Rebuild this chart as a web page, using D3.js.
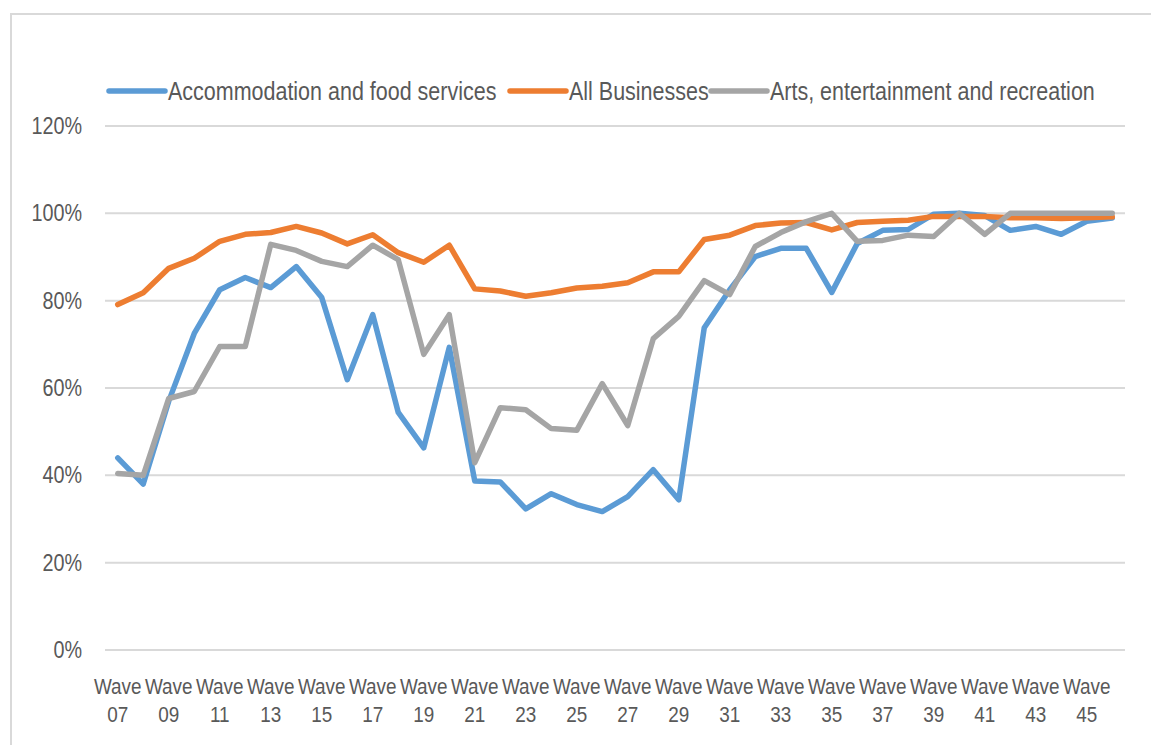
<!DOCTYPE html>
<html>
<head>
<meta charset="utf-8">
<script src="https://cdn.jsdelivr.net/npm/d3@7"></script>
<style>
  body { margin: 0; background: #fff; overflow: hidden; }
  text { font-family: "Liberation Sans", Arial, sans-serif; fill: #595959; }
</style>
</head>
<body>
<script>
const waves = d3.range(7, 47).map(n => String(n).padStart(2, '0'));

const accommodation = [0.44, 0.38, 0.57, 0.725, 0.825, 0.853, 0.83, 0.878, 0.807, 0.619, 0.768, 0.544, 0.463, 0.693,
  0.387, 0.385, 0.323, 0.358, 0.333, 0.317, 0.351, 0.413, 0.344, 0.738, 0.825, 0.901, 0.92, 0.92, 0.819,
  0.931, 0.961, 0.963, 0.998, 1.0, 0.995, 0.961, 0.97, 0.952, 0.982, 0.989];
const allBusinesses = [0.791, 0.818, 0.874, 0.897, 0.936, 0.952, 0.956, 0.97, 0.955, 0.93, 0.951, 0.91, 0.888, 0.927,
  0.827, 0.822, 0.81, 0.818, 0.829, 0.833, 0.841, 0.866, 0.866, 0.94, 0.95, 0.972, 0.978, 0.979, 0.962,
  0.979, 0.982, 0.984, 0.993, 0.993, 0.993, 0.99, 0.99, 0.988, 0.99, 0.992];
const arts = [0.404, 0.4, 0.576, 0.592, 0.695, 0.695, 0.929, 0.915, 0.89, 0.878, 0.927, 0.894, 0.677, 0.768,
  0.429, 0.555, 0.55, 0.507, 0.503, 0.61, 0.514, 0.713, 0.764, 0.846, 0.814, 0.924, 0.956, 0.981, 1.0,
  0.936, 0.938, 0.95, 0.947, 1.0, 0.952, 1.0, 1.0, 1.0, 1.0, 1.0];

const seriesNames = ["Accommodation and food services", "All Businesses", "Arts, entertainment and recreation"];
const seriesColors = ["#5B9BD5", "#ED7D31", "#A5A5A5"];
const yTicks = [0, 0.2, 0.4, 0.6, 0.8, 1.0, 1.2];

const series = [accommodation, allBusinesses, arts];
const width = 1151, height = 745;
const squeeze = 0.86; // no Calibri here, so narrow the glyphs a bit

const svg = d3.select("body").append("svg")
  .attr("width", width).attr("height", height);

// squeeze a text horizontally around its anchor x
function condense(sel, cx) {
  sel.attr("transform", (d, i) => {
    const c = typeof cx === "function" ? cx(d, i) : cx;
    return `translate(${c},0) scale(${squeeze},1) translate(${-c},0)`;
  });
}

// chart frame (right edge runs off the picture)
svg.append("rect")
  .attr("x", 11).attr("y", 14)
  .attr("width", width + 20).attr("height", height)
  .attr("fill", "none").attr("stroke", "#D9D9D9").attr("stroke-width", 2);

const x = d3.scaleBand().domain(waves).range([105, 1125]);
const y = d3.scaleLinear().domain([0, 1.2]).range([650, 126]);
const cx = d => x(d) + x.bandwidth() / 2;

// gridlines
svg.append("g").selectAll("line").data(yTicks).join("line")
  .attr("x1", 105).attr("x2", 1125)
  .attr("y1", d => y(d)).attr("y2", d => y(d))
  .attr("stroke", "#D9D9D9").attr("stroke-width", 2);

// y axis labels
const yAxis = svg.append("g")
  .attr("transform", "translate(96,0)")
  .call(d3.axisLeft(y).tickValues(yTicks).tickFormat(d3.format(".0%")).tickSize(0).tickPadding(14));
yAxis.select(".domain").remove();
yAxis.selectAll("text")
  .attr("font-size", 23).attr("font-family", null).attr("fill", "#595959")
  .call(condense, -14);

// x axis labels (every other wave), two lines
const xAxis = svg.append("g").attr("transform", "translate(0,650)");
const xLab = xAxis.selectAll("text").data(waves.filter((d, i) => i % 2 === 0)).join("text")
  .attr("text-anchor", "middle")
  .attr("font-size", 22)
  .call(condense, cx);
xLab.append("tspan").attr("x", cx).attr("y", 44).text("Wave");
xLab.append("tspan").attr("x", cx).attr("y", 72).text(d => d);

// lines
const line = d3.line()
  .x((d, i) => cx(waves[i]))
  .y(d => y(d));

svg.append("g").selectAll("path").data(series).join("path")
  .attr("d", line)
  .attr("fill", "none")
  .attr("stroke", (d, i) => seriesColors[i])
  .attr("stroke-width", 5.5)
  .attr("stroke-linejoin", "round")
  .attr("stroke-linecap", "round");

// legend
const legendX = [109, 510, 711];
const legend = svg.append("g").selectAll("g").data(seriesNames).join("g")
  .attr("transform", (d, i) => `translate(${legendX[i]},91)`);
legend.append("line")
  .attr("x1", 0).attr("x2", 56)
  .attr("stroke", (d, i) => seriesColors[i])
  .attr("stroke-width", 5.5).attr("stroke-linecap", "round");
legend.append("text")
  .attr("x", 59).attr("y", 9)
  .attr("font-size", 25)
  .text(d => d)
  .call(condense, 59);
</script>
</body>
</html>
